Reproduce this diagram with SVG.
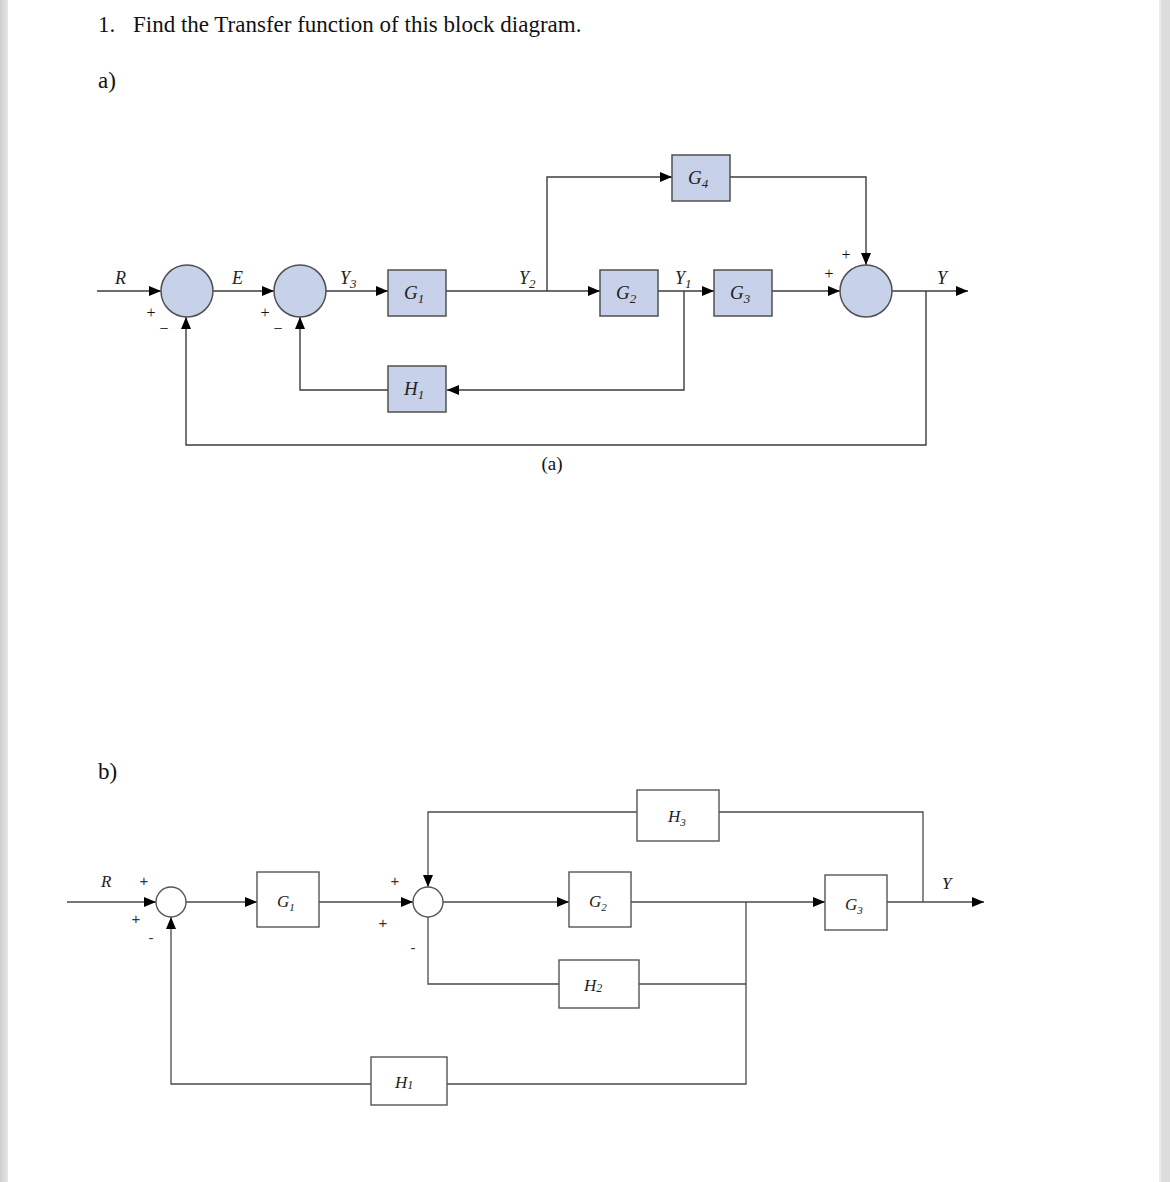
<svg xmlns="http://www.w3.org/2000/svg" width="1170" height="1182" viewBox="0 0 1170 1182">
<defs>
<style>
.t{font-family:"Liberation Serif","Times New Roman",serif;fill:#111}
.i{font-family:"Liberation Serif","Times New Roman",serif;font-style:italic;fill:#222}
.la{fill:none;stroke:#3c3c3c;stroke-width:1.4}
.lb{fill:none;stroke:#4a4a4a;stroke-width:1.3}
.ba{fill:#c7d1ea;stroke:#505050;stroke-width:1.5}
.bb{fill:#fff;stroke:#555;stroke-width:1.4}
.s{font-family:"Liberation Sans",Arial,sans-serif;fill:#333}
</style>
<marker id="ah" viewBox="0 0 12 10" refX="12" refY="5" markerWidth="12" markerHeight="10" orient="auto" markerUnits="userSpaceOnUse"><path d="M0,0 L12,5 L0,10 z" fill="#000"/></marker>
<marker id="ahb" viewBox="0 0 12 10" refX="12" refY="5" markerWidth="12" markerHeight="10" orient="auto" markerUnits="userSpaceOnUse"><path d="M0,0 L12,5 L0,10 z" fill="#000"/></marker>
<linearGradient id="lg" x1="0" x2="1" y1="0" y2="0"><stop offset="0" stop-color="#cfcfcf"/><stop offset="1" stop-color="#e6e6e6"/></linearGradient>
</defs>
<rect x="0" y="0" width="1170" height="1182" fill="#fff"/>
<rect x="0" y="0" width="8" height="1182" fill="url(#lg)"/>
<rect x="1159" y="0" width="2" height="1182" fill="#ececec"/>
<rect x="1161" y="0" width="9" height="1182" fill="#dcdcdc"/>

<text class="t" x="98" y="32" font-size="23">1.</text>
<text class="t" x="133" y="32" font-size="23">Find the Transfer function of this block diagram.</text>
<text class="t" x="98" y="88" font-size="23">a)</text>
<text class="t" x="98" y="779" font-size="23">b)</text>

<!-- Diagram a connectors -->
<g id="connectors-a">
<path class="la" d="M97,291 H161" marker-end="url(#ah)"/>
<path class="la" d="M213,291 H274" marker-end="url(#ah)"/>
<path class="la" d="M326,291 H388" marker-end="url(#ah)"/>
<path class="la" d="M446,291 H600" marker-end="url(#ah)"/>
<path class="la" d="M547,291 V177 H672" marker-end="url(#ah)"/>
<path class="la" d="M730,177 H866 V265" marker-end="url(#ah)"/>
<path class="la" d="M658,291 H714" marker-end="url(#ah)"/>
<path class="la" d="M684,291 V390 H447" marker-end="url(#ah)"/>
<path class="la" d="M388,390 H300 V317" marker-end="url(#ah)"/>
<path class="la" d="M772,291 H840" marker-end="url(#ah)"/>
<path class="la" d="M892,291 H968" marker-end="url(#ah)"/>
<path class="la" d="M926,291 V445 H186 V317" marker-end="url(#ah)"/>
</g>

<g id="a-sum1"><circle class="ba" cx="187" cy="291" r="26"/></g>
<g id="a-sum2"><circle class="ba" cx="300" cy="291" r="26"/></g>
<g id="a-sum3"><circle class="ba" cx="866" cy="291" r="26"/></g>
<g id="a-G1"><rect class="ba" x="388" y="270" width="58" height="46"/><text class="i" x="404" y="299" font-size="19">G<tspan font-size="13" dy="4">1</tspan></text></g>
<g id="a-G2"><rect class="ba" x="600" y="270" width="58" height="46"/><text class="i" x="616" y="299" font-size="19">G<tspan font-size="13" dy="4">2</tspan></text></g>
<g id="a-G3"><rect class="ba" x="714" y="270" width="58" height="46"/><text class="i" x="730" y="299" font-size="19">G<tspan font-size="13" dy="4">3</tspan></text></g>
<g id="a-G4"><rect class="ba" x="672" y="155" width="58" height="46"/><text class="i" x="688" y="184" font-size="19">G<tspan font-size="13" dy="4">4</tspan></text></g>
<g id="a-H1"><rect class="ba" x="388" y="366" width="58" height="46"/><text class="i" x="404" y="395" font-size="19">H<tspan font-size="13" dy="4">1</tspan></text></g>

<g id="a-labels">
<text class="i" x="115" y="284" font-size="18">R</text>
<text class="i" x="232" y="284" font-size="18">E</text>
<text class="i" x="340" y="284" font-size="18">Y<tspan font-size="13" dy="4">3</tspan></text>
<text class="i" x="519" y="284" font-size="18">Y<tspan font-size="13" dy="4">2</tspan></text>
<text class="i" x="675" y="284" font-size="18">Y<tspan font-size="13" dy="4">1</tspan></text>
<text class="i" x="937" y="284" font-size="18">Y</text>
<text class="t" x="151" y="318" font-size="16" text-anchor="middle">+</text>
<text class="t" x="164" y="334" font-size="16" text-anchor="middle">−</text>
<text class="t" x="265" y="318" font-size="16" text-anchor="middle">+</text>
<text class="t" x="278" y="334" font-size="16" text-anchor="middle">−</text>
<text class="t" x="829" y="279" font-size="16" text-anchor="middle">+</text>
<text class="t" x="846" y="260" font-size="16" text-anchor="middle">+</text>
<text class="t" x="552" y="470" font-size="19" text-anchor="middle">(a)</text>
</g>

<!-- Diagram b connectors -->
<g id="connectors-b">
<path class="lb" d="M67,902 H156" marker-end="url(#ahb)"/>
<path class="lb" d="M186,902 H257" marker-end="url(#ahb)"/>
<path class="lb" d="M319,902 H413" marker-end="url(#ahb)"/>
<path class="lb" d="M637,812 H428 V887" marker-end="url(#ahb)"/>
<path class="lb" d="M923,902 V812 H719"/>
<path class="lb" d="M443,902 H569" marker-end="url(#ahb)"/>
<path class="lb" d="M631,902 H825" marker-end="url(#ahb)"/>
<path class="lb" d="M559,984 H428 V917"/>
<path class="lb" d="M746,984 H639"/>
<path class="lb" d="M746,902 V1084 H447"/>
<path class="lb" d="M371,1084 H171 V917" marker-end="url(#ahb)"/>
<path class="lb" d="M887,902 H984" marker-end="url(#ahb)"/>
</g>

<g id="b-sum1"><circle class="bb" cx="171" cy="902" r="15"/></g>
<g id="b-sum2"><circle class="bb" cx="428" cy="902" r="15"/></g>
<g id="b-G1"><rect class="bb" x="257" y="872" width="62" height="55"/><text class="i" x="277" y="907" font-size="17">G<tspan font-size="11" dy="4">1</tspan></text></g>
<g id="b-G2"><rect class="bb" x="569" y="872" width="62" height="55"/><text class="i" x="589" y="907" font-size="17">G<tspan font-size="11" dy="4">2</tspan></text></g>
<g id="b-G3"><rect class="bb" x="825" y="875" width="62" height="55"/><text class="i" x="845" y="910" font-size="17">G<tspan font-size="11" dy="4">3</tspan></text></g>
<g id="b-H3"><rect class="bb" x="637" y="790" width="82" height="51"/><text class="i" x="668" y="822" font-size="17">H<tspan font-size="11" dy="4">3</tspan></text></g>
<g id="b-H2"><rect class="bb" x="559" y="960" width="80" height="48"/><text class="i" x="584" y="991" font-size="17">H<tspan font-size="12" dy="1">2</tspan></text></g>
<g id="b-H1"><rect class="bb" x="371" y="1057" width="76" height="48"/><text class="i" x="395" y="1088" font-size="17">H<tspan font-size="12" dy="1">1</tspan></text></g>

<g id="b-labels">
<text class="i" x="101" y="887" font-size="17">R</text>
<text class="i" x="942" y="889" font-size="17">Y</text>
<text class="s" x="144" y="886" font-size="15" text-anchor="middle">+</text>
<text class="s" x="136" y="924" font-size="15" text-anchor="middle">+</text>
<text class="s" x="151" y="943" font-size="15" text-anchor="middle">-</text>
<text class="s" x="395" y="886" font-size="15" text-anchor="middle">+</text>
<text class="s" x="383" y="928" font-size="15" text-anchor="middle">+</text>
<text class="s" x="413" y="953" font-size="15" text-anchor="middle">-</text>
</g>
</svg>
